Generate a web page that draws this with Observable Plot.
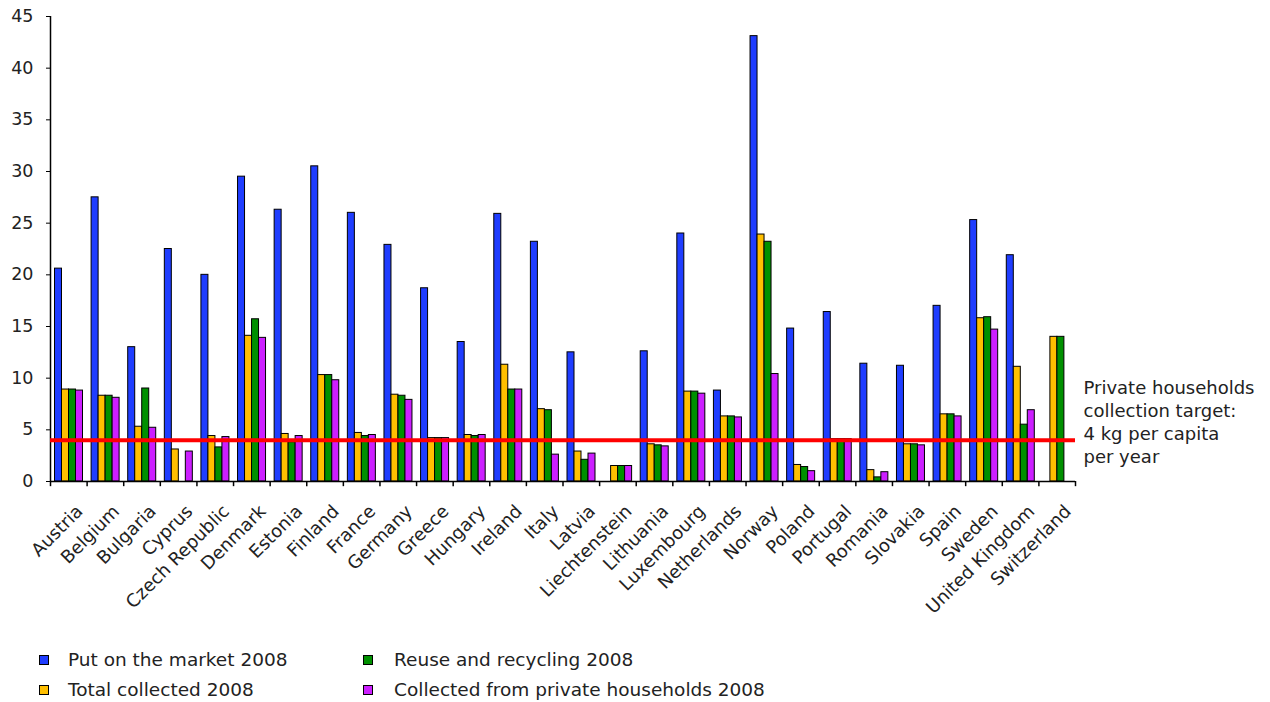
<!DOCTYPE html>
<html><head><meta charset="utf-8">
<script src="https://cdn.jsdelivr.net/npm/d3@7"></script>
<script src="https://cdn.jsdelivr.net/npm/@observablehq/plot@0.6"></script>
<style>
body{margin:0;background:#fff;font-family:"DejaVu Sans",Verdana,sans-serif;color:#222;}
#wrap{position:relative;width:1270px;height:702px;overflow:hidden;}
.lg{position:absolute;font-size:18.5px;line-height:20px;white-space:nowrap;}
.sw{position:absolute;width:8px;height:8px;border:1px solid #000;}
</style></head><body><div id="wrap"></div>
<script>
const countries = ["Austria","Belgium","Bulgaria","Cyprus","Czech Republic","Denmark","Estonia","Finland","France","Germany","Greece","Hungary","Ireland","Italy","Latvia","Liechtenstein","Lithuania","Luxembourg","Netherlands","Norway","Poland","Portugal","Romania","Slovakia","Spain","Sweden","United Kingdom","Switzerland"];
const putOnMarket      = [20.6,27.5,13.0,22.5,20.0,29.5,26.3,30.5,26.0,22.9,18.7,13.5,25.9,23.2,12.5,null,12.6,24.0,8.8,43.1,14.8,16.4,11.4,11.2,17.0,25.3,21.9,null];
const totalCollected   = [8.9,8.3,5.3,3.1,4.4,14.1,4.6,10.3,4.7,8.4,4.2,4.5,11.3,7.0,2.9,1.5,3.6,8.7,6.3,23.9,1.6,4.1,1.1,3.6,6.5,15.8,11.1,14.0];
const reuseRecycling   = [8.9,8.3,9.0,null,3.3,15.7,3.8,10.3,4.4,8.3,4.2,4.4,8.9,6.9,2.1,1.5,3.5,8.7,6.3,23.2,1.4,4.1,0.4,3.6,6.5,15.9,5.5,14.0];
const privateHouseholds= [8.8,8.1,5.2,2.9,4.3,13.9,4.4,9.8,4.5,7.9,4.2,4.5,8.9,2.6,2.7,1.5,3.4,8.5,6.2,10.4,1.0,4.1,0.9,3.5,6.3,14.7,6.9,null];
const seriesNames  = ["Put on the market 2008","Total collected 2008","Reuse and recycling 2008","Collected from private households 2008"];
const seriesColors = ["#1f3dff","#ffbf00","#009000","#cc1fff"];
const yTicks = [0,5,10,15,20,25,30,35,40,45];
const target = 4;
const targetLabel = "Private households\ncollection target:\n4 kg per capita\nper year";

const series = [putOnMarket, totalCollected, reuseRecycling, privateHouseholds];
const W = 1270, H = 640, ML = 50, MR = 195, MT = 16, MB = 159;
const bw = (W - ML - MR) / countries.length;
const barW = 7, lead = 4.5;

const barMarks = series.map((vals, i) => Plot.barY(
  countries.map((c, j) => ({country: c, value: vals[j]})).filter(d => d.value != null),
  {x: "country", y: "value", fill: seriesColors[i], stroke: "#000", strokeWidth: 1,
   insetLeft: lead + barW * i, insetRight: bw - lead - barW * (i + 1)}));

const chart = Plot.plot({
  width: W, height: H,
  marginLeft: ML, marginRight: MR, marginTop: MT, marginBottom: MB,
  style: {fontFamily: '"DejaVu Sans", Verdana, sans-serif', fontSize: "17.5px", color: "#222", background: "#fff", overflow: "visible"},
  x: {domain: countries, padding: 0, round: false, axis: null},
  y: {domain: [0, 45], axis: null},
  marks: [
    Plot.axisY({ticks: yTicks, label: null, tickSize: 4, tickPadding: 13, stroke: "#000", fill: "#222", fontSize: "17.5px"}),
    ...barMarks,
    Plot.ruleY([0], {stroke: "#000", strokeWidth: 1.5}),
    Plot.ruleX([countries[0]], {dx: -bw / 2, y1: 0, y2: 45, stroke: "#000", strokeWidth: 1.5}),
    Plot.ruleX(countries, {x: d => d, dx: -bw / 2, y1: 0, y2: -0.5, stroke: "#000", strokeWidth: 1.5}),
    Plot.ruleX([countries[countries.length - 1]], {dx: bw / 2, y1: 0, y2: -0.5, stroke: "#000", strokeWidth: 1.5}),
    Plot.ruleY([target], {stroke: "#ff0000", strokeWidth: 4}),
    Plot.text(countries, {x: d => d, text: d => d, frameAnchor: "bottom", rotate: -45, textAnchor: "end", lineAnchor: "bottom", dx: 15, dy: 31, fill: "#222", fontSize: "18px"}),
    Plot.text([targetLabel], {text: d => d, y: [target], frameAnchor: "right", textAnchor: "start", lineAnchor: "middle", lineHeight: 1.28, dx: 8, dy: -19, fill: "#222", fontSize: "18px"})
  ]
});
const wrap = document.getElementById("wrap");
chart.style.position = "absolute";
chart.style.left = "0px";
chart.style.top = "0px";
wrap.appendChild(chart);

// column 1: Put on market, Total collected; column 2: Reuse, Private households
const legendPos = [[44, 660, 68], [44, 690, 68], [368, 660, 394], [368, 690, 394]];
series.forEach((s, i) => {
  const [sx, sy, tx] = legendPos[i];
  const sw = document.createElement("div");
  sw.className = "sw";
  sw.style.left = (sx - 5) + "px";
  sw.style.top = (sy - 5) + "px";
  sw.style.background = seriesColors[i];
  wrap.appendChild(sw);
  const t = document.createElement("div");
  t.className = "lg";
  t.style.left = tx + "px";
  t.style.top = (sy - 10) + "px";
  t.textContent = seriesNames[i];
  wrap.appendChild(t);
});
</script></body></html>
